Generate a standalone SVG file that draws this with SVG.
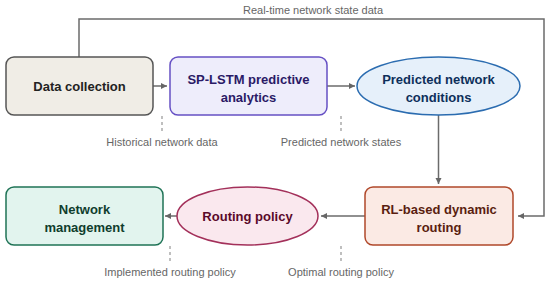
<svg xmlns="http://www.w3.org/2000/svg" width="550" height="284" viewBox="0 0 550 284">
<defs>
<marker id="ah" markerWidth="8" markerHeight="8" refX="6" refY="4" orient="auto" markerUnits="userSpaceOnUse">
<path d="M0,1 L6,4 L0,7 Z" fill="#666"/>
</marker>
<style>
.t{font-family:"Liberation Sans",Arial,sans-serif;font-size:13px;font-weight:bold;text-anchor:middle}
.lbl{font-family:"Liberation Sans",Arial,sans-serif;font-size:11px;fill:#666;text-anchor:middle}
.c{fill:none;stroke:#6b6b6b;stroke-width:1.5}
.d{fill:none;stroke:#aaa;stroke-width:1.5;stroke-dasharray:3,3}
</style>
</defs>
<g id="connectors">
<path class="c" d="M79,57 V19 H544 V216 H518" marker-end="url(#ah)"/>
<path class="c" d="M153,86 H167" marker-end="url(#ah)"/>
<path class="c" d="M327,86 H355" marker-end="url(#ah)"/>
<path class="c" d="M438.5,115 V184" marker-end="url(#ah)"/>
<path class="c" d="M365,216 H321" marker-end="url(#ah)"/>
<path class="c" d="M177,216 H165" marker-end="url(#ah)"/>
<path class="d" d="M162,116 V131"/>
<path class="d" d="M341,116 V131"/>
<path class="d" d="M170,246 V261"/>
<path class="d" d="M341,246 V261"/>
<text class="lbl" x="313" y="14">Real-time network state data</text>
<text class="lbl" x="162" y="146">Historical network data</text>
<text class="lbl" x="341" y="146">Predicted network states</text>
<text class="lbl" x="170" y="276">Implemented routing policy</text>
<text class="lbl" x="341" y="276">Optimal routing policy</text>
</g>
<g id="data-collection">
<rect x="6" y="57" width="147" height="58" rx="8" fill="#f0ede6" stroke="#555" stroke-width="1.5"/>
<text class="t" x="79.5" y="91" fill="#222">Data collection</text>
</g>
<g id="sp-lstm">
<rect x="170" y="57" width="157" height="58" rx="8" fill="#eeedfb" stroke="#6650c4" stroke-width="1.5"/>
<text class="t" x="248.5" y="83.5" fill="#2a1a66">SP-LSTM predictive</text>
<text class="t" x="248.5" y="101.5" fill="#2a1a66">analytics</text>
</g>
<g id="predicted-conditions">
<ellipse cx="438.5" cy="86" rx="81.5" ry="29" fill="#e6f0fa" stroke="#2b6cb0" stroke-width="1.5"/>
<text class="t" x="438.5" y="83.5" fill="#0d2f5a">Predicted network</text>
<text class="t" x="438.5" y="101.5" fill="#0d2f5a">conditions</text>
</g>
<g id="rl-routing">
<rect x="365" y="187" width="148" height="58" rx="8" fill="#fbeae4" stroke="#b0482a" stroke-width="1.5"/>
<text class="t" x="439" y="213.5" fill="#5a1e10">RL-based dynamic</text>
<text class="t" x="439" y="231.5" fill="#5a1e10">routing</text>
</g>
<g id="routing-policy">
<ellipse cx="247.5" cy="216" rx="70.5" ry="29" fill="#fae8ee" stroke="#a3305a" stroke-width="1.5"/>
<text class="t" x="247.5" y="221" fill="#5a0a2a">Routing policy</text>
</g>
<g id="network-management">
<rect x="6" y="187" width="157" height="58" rx="8" fill="#e2f4ee" stroke="#1f7356" stroke-width="1.5"/>
<text class="t" x="84.5" y="213.5" fill="#0f3d2d">Network</text>
<text class="t" x="84.5" y="231.5" fill="#0f3d2d">management</text>
</g>
</svg>
